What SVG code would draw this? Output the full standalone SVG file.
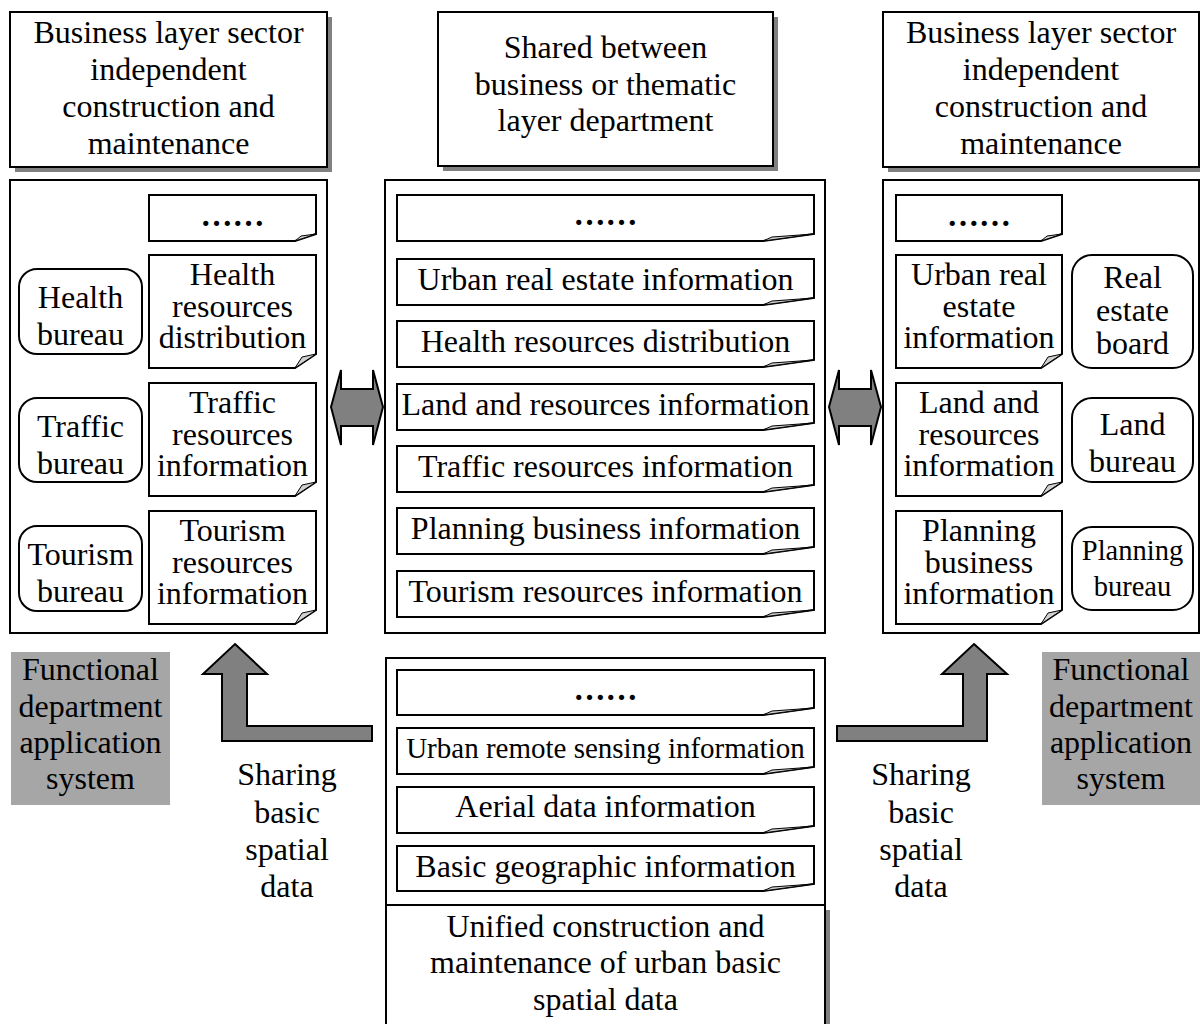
<svg xmlns="http://www.w3.org/2000/svg" width="1200" height="1024" viewBox="0 0 1200 1024" font-family="'Liberation Serif', 'Times New Roman', 'DejaVu Serif', serif">
<style>
text{font-family:'Liberation Serif','Times New Roman','DejaVu Serif',serif;font-size:32px;fill:#000;text-anchor:middle}
.s{font-size:29px}
.p{font-size:28.5px}
.box{fill:#fff;stroke:#000;stroke-width:2}
.sh{fill:#808080}
.doc{fill:#fff;stroke:#000;stroke-width:2;stroke-linejoin:miter}
.fold{fill:#d0d0d0;stroke:#000;stroke-width:1}
.rr{fill:#fff;stroke:#000;stroke-width:2}
.lab{fill:#a6a6a6}
.arr{fill:#808080;stroke:#000;stroke-width:2;stroke-linejoin:miter}
.dots{font-weight:bold}
</style>

<!-- top header boxes -->
<g id="hdr-left">
<rect class="sh" x="15" y="17" width="317" height="155"/>
<rect class="box" x="10" y="12" width="317" height="155"/>
<text x="168.5" y="43">Business layer sector</text>
<text x="168.5" y="80">independent</text>
<text x="168.5" y="117">construction and</text>
<text x="168.5" y="154">maintenance</text>
</g>
<g id="hdr-mid">
<rect class="sh" x="443" y="17" width="335" height="154"/>
<rect class="box" x="438" y="12" width="335" height="154"/>
<text x="605.5" y="58">Shared between</text>
<text x="605.5" y="95">business or thematic</text>
<text x="605.5" y="131">layer department</text>
</g>
<g id="hdr-right">
<rect class="sh" x="888" y="17" width="316" height="155"/>
<rect class="box" x="883" y="12" width="316" height="155"/>
<text x="1041" y="43">Business layer sector</text>
<text x="1041" y="80">independent</text>
<text x="1041" y="117">construction and</text>
<text x="1041" y="154">maintenance</text>
</g>

<!-- left panel -->
<g id="panel-left">
<rect class="box" x="10" y="180" width="317" height="453"/>
</g>
<g id="l-doc-dots">
<path class="doc" d="M149,195 H316 V234 L295,241 H149 Z"/>
<path class="fold" d="M295,241 L316,234 L301,236 Z"/>
<text class="dots" x="232.5" y="226">……</text>
</g>
<g id="l-doc-health">
<path class="doc" d="M149,255 H316 V354 L295,368 H149 Z"/>
<path class="fold" d="M295,368 L316,354 L302,357 Z"/>
<text x="232.5" y="285">Health</text>
<text x="232.5" y="317">resources</text>
<text x="232.5" y="348">distribution</text>
</g>
<g id="l-doc-traffic">
<path class="doc" d="M149,383 H316 V482 L295,496 H149 Z"/>
<path class="fold" d="M295,496 L316,482 L302,485 Z"/>
<text x="232.5" y="413">Traffic</text>
<text x="232.5" y="445">resources</text>
<text x="232.5" y="476">information</text>
</g>
<g id="l-doc-tourism">
<path class="doc" d="M149,511 H316 V610 L295,624 H149 Z"/>
<path class="fold" d="M295,624 L316,610 L302,613 Z"/>
<text x="232.5" y="541">Tourism</text>
<text x="232.5" y="573">resources</text>
<text x="232.5" y="604">information</text>
</g>
<g id="health-bureau">
<rect class="rr" x="19" y="269" width="123" height="85" rx="18"/>
<text x="80.5" y="308">Health</text>
<text x="80.5" y="345">bureau</text>
</g>
<g id="traffic-bureau">
<rect class="rr" x="19" y="398" width="123" height="84" rx="18"/>
<text x="80.5" y="437">Traffic</text>
<text x="80.5" y="474">bureau</text>
</g>
<g id="tourism-bureau">
<rect class="rr" x="19" y="526" width="123" height="85" rx="18"/>
<text x="80.5" y="565">Tourism</text>
<text x="80.5" y="602">bureau</text>
</g>

<!-- middle panel -->
<g id="panel-mid">
<rect class="box" x="385" y="180" width="440" height="453"/>
</g>
<g id="m-doc-dots">
<path class="doc" d="M397,195 H814 V234 L763,241 H397 Z"/>
<path class="fold" d="M763,241 L814,234 L772,237 Z"/>
<text class="dots" x="605.5" y="225">……</text>
</g>
<g id="m-doc-1">
<path class="doc" d="M397,259 H814 V298 L763,305 H397 Z"/>
<path class="fold" d="M763,305 L814,298 L772,301 Z"/>
<text x="605.5" y="290">Urban real estate information</text>
</g>
<g id="m-doc-2">
<path class="doc" d="M397,321 H814 V360 L763,367 H397 Z"/>
<path class="fold" d="M763,367 L814,360 L772,363 Z"/>
<text x="605.5" y="352">Health resources distribution</text>
</g>
<g id="m-doc-3">
<path class="doc" d="M397,384 H814 V423 L763,430 H397 Z"/>
<path class="fold" d="M763,430 L814,423 L772,426 Z"/>
<text x="605.5" y="415">Land and resources information</text>
</g>
<g id="m-doc-4">
<path class="doc" d="M397,446 H814 V485 L763,492 H397 Z"/>
<path class="fold" d="M763,492 L814,485 L772,488 Z"/>
<text x="605.5" y="477">Traffic resources information</text>
</g>
<g id="m-doc-5">
<path class="doc" d="M397,508 H814 V547 L763,554 H397 Z"/>
<path class="fold" d="M763,554 L814,547 L772,550 Z"/>
<text x="605.5" y="539">Planning business information</text>
</g>
<g id="m-doc-6">
<path class="doc" d="M397,571 H814 V610 L763,617 H397 Z"/>
<path class="fold" d="M763,617 L814,610 L772,613 Z"/>
<text x="605.5" y="602">Tourism resources information</text>
</g>

<!-- right panel -->
<g id="panel-right">
<rect class="box" x="883" y="180" width="316" height="453"/>
</g>
<g id="r-doc-dots">
<path class="doc" d="M896,195 H1062 V234 L1041,241 H896 Z"/>
<path class="fold" d="M1041,241 L1062,234 L1047,236 Z"/>
<text class="dots" x="979" y="226">……</text>
</g>
<g id="r-doc-estate">
<path class="doc" d="M896,255 H1062 V354 L1041,368 H896 Z"/>
<path class="fold" d="M1041,368 L1062,354 L1048,357 Z"/>
<text x="979" y="285">Urban real</text>
<text x="979" y="317">estate</text>
<text x="979" y="348">information</text>
</g>
<g id="r-doc-land">
<path class="doc" d="M896,383 H1062 V482 L1041,496 H896 Z"/>
<path class="fold" d="M1041,496 L1062,482 L1048,485 Z"/>
<text x="979" y="413">Land and</text>
<text x="979" y="445">resources</text>
<text x="979" y="476">information</text>
</g>
<g id="r-doc-planning">
<path class="doc" d="M896,511 H1062 V610 L1041,624 H896 Z"/>
<path class="fold" d="M1041,624 L1062,610 L1048,613 Z"/>
<text x="979" y="541">Planning</text>
<text x="979" y="573">business</text>
<text x="979" y="604">information</text>
</g>
<g id="real-estate-board">
<rect class="rr" x="1072" y="255" width="121" height="113" rx="20"/>
<text x="1132.5" y="288">Real</text>
<text x="1132.5" y="321">estate</text>
<text x="1132.5" y="354">board</text>
</g>
<g id="land-bureau">
<rect class="rr" x="1072" y="398" width="121" height="84" rx="20"/>
<text x="1132.5" y="435">Land</text>
<text x="1132.5" y="472">bureau</text>
</g>
<g id="planning-bureau">
<rect class="rr" x="1072" y="527" width="121" height="83" rx="20"/>
<text class="p" x="1132.5" y="560">Planning</text>
<text class="p" x="1132.5" y="596">bureau</text>
</g>

<!-- bottom middle panel -->
<g id="panel-base">
<rect class="box" x="386" y="658" width="439" height="247"/>
</g>
<g id="b-doc-dots">
<path class="doc" d="M397,670 H814 V708 L763,715 H397 Z"/>
<path class="fold" d="M763,715 L814,708 L772,711 Z"/>
<text class="dots" x="605.5" y="700">……</text>
</g>
<g id="b-doc-1">
<path class="doc" d="M397,728 H814 V767 L763,774 H397 Z"/>
<path class="fold" d="M763,774 L814,767 L772,770 Z"/>
<text class="s" x="605.5" y="758">Urban remote sensing information</text>
</g>
<g id="b-doc-2">
<path class="doc" d="M397,787 H814 V826 L763,833 H397 Z"/>
<path class="fold" d="M763,833 L814,826 L772,829 Z"/>
<text x="605.5" y="817">Aerial data information</text>
</g>
<g id="b-doc-3">
<path class="doc" d="M397,846 H814 V884 L763,891 H397 Z"/>
<path class="fold" d="M763,891 L814,884 L772,887 Z"/>
<text x="605.5" y="877">Basic geographic information</text>
</g>
<g id="base-label">
<rect class="sh" x="391" y="910" width="439" height="130"/>
<rect class="box" x="386" y="905" width="439" height="130"/>
<text x="605.5" y="937">Unified construction and</text>
<text x="605.5" y="973">maintenance of urban basic</text>
<text x="605.5" y="1010">spatial data</text>
</g>

<!-- gray labels -->
<g id="func-left">
<rect class="lab" x="11" y="652" width="159" height="153"/>
<text x="90.5" y="680">Functional</text>
<text x="90.5" y="717">department</text>
<text x="90.5" y="753">application</text>
<text x="90.5" y="789">system</text>
</g>
<g id="func-right">
<rect class="lab" x="1042" y="652" width="158" height="153"/>
<text x="1121" y="680">Functional</text>
<text x="1121" y="717">department</text>
<text x="1121" y="753">application</text>
<text x="1121" y="789">system</text>
</g>

<!-- connectors -->
<g id="connectors">
<path class="arr" d="M331,407 L341,370 V389 H373 V370 L383,407 L373,445 V426 H341 V445 Z"/>
<path class="arr" d="M829,407 L839,370 V389 H871 V370 L881,407 L871,445 V426 H839 V445 Z"/>
<path class="arr" d="M235,644 L267,674 H247 V726 H372 V741 H222 V674 H203 Z"/>
<path class="arr" d="M974,644 L1007,674 H987 V741 H837 V726 H963 V674 H942 Z"/>
<text x="287" y="785">Sharing</text>
<text x="287" y="823">basic</text>
<text x="287" y="860">spatial</text>
<text x="287" y="897">data</text>
<text x="921" y="785">Sharing</text>
<text x="921" y="823">basic</text>
<text x="921" y="860">spatial</text>
<text x="921" y="897">data</text>
</g>
</svg>
